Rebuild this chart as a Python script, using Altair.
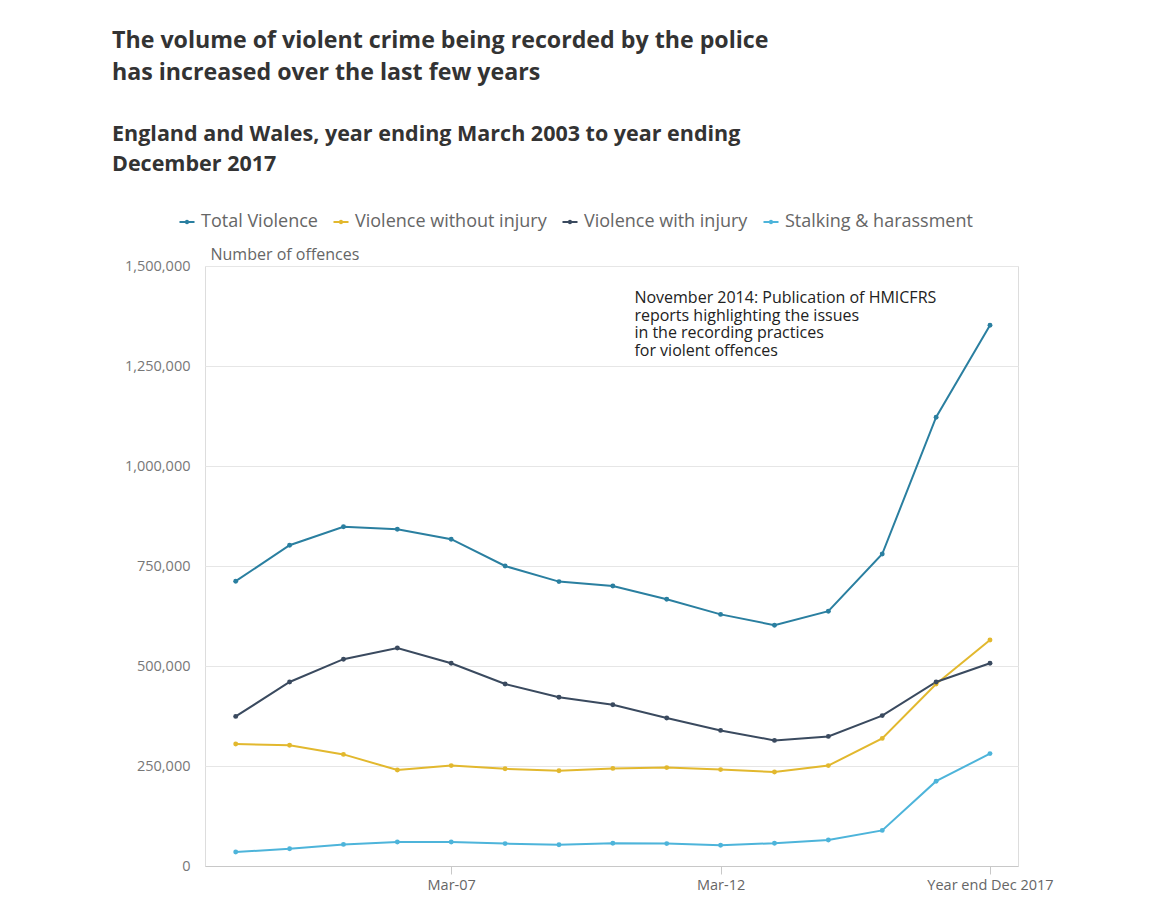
import altair as alt
import pandas as pd

periods = ["Mar-03", "Mar-04", "Mar-05", "Mar-06", "Mar-07", "Mar-08", "Mar-09",
           "Mar-10", "Mar-11", "Mar-12", "Mar-13", "Mar-14", "Mar-15", "Mar-16",
           "Year end Dec 2017"]
series_names = ["Total Violence", "Violence without injury", "Violence with injury",
                "Stalking & harassment"]
total_violence = [712000, 802000, 848000, 842000, 817000, 750000, 711000, 700000,
                  667000, 629000, 602000, 637000, 780000, 1122000, 1352000]
without_injury = [305000, 302000, 279000, 240000, 251000, 243000, 238000, 244000,
                  246000, 241000, 235000, 251000, 319000, 455000, 565000]
with_injury = [374000, 460000, 517000, 545000, 507000, 455000, 422000, 403000,
               370000, 339000, 314000, 324000, 376000, 460000, 507000]
stalking = [35000, 43000, 54000, 60000, 60000, 56000, 53000, 57000, 56000, 52000,
            57000, 65000, 89000, 212000, 281000]
colors = ["#2a7fa0", "#e2b82e", "#3a4a5f", "#4db4da"]
x_tick_periods = ["Mar-07", "Mar-12", "Year end Dec 2017"]
y_ticks = [0, 250000, 500000, 750000, 1000000, 1250000, 1500000]

annotation_text = ("November 2014: Publication of HMICFRS\nreports highlighting the issues\n"
                   "in the recording practices\nfor violent offences")
annotation_x = 7.4
annotation_y = 1439000

rows = []
for name, vals in zip(series_names, [total_violence, without_injury, with_injury, stalking]):
    for i, (p, v) in enumerate(zip(periods, vals)):
        rows.append({"series": name, "period": p, "idx": i, "value": v})
df = pd.DataFrame(rows)

label_array = "[" + ",".join("'" + p + "'" for p in periods) + "]"
x_enc = alt.X("idx:Q",
              scale=alt.Scale(domain=[-0.57, len(periods) - 1 + 0.52], nice=False, zero=False),
              axis=alt.Axis(values=[periods.index(p) for p in x_tick_periods],
                            labelExpr=label_array + "[datum.value]",
                            title=None, grid=False, domainColor="#c8c8c8",
                            tickColor="#c8c8c8", tickSize=8, labelPadding=4,
                            labelFont="Open Sans", labelFontSize=14.5, labelColor="#666666"))
y_enc = alt.Y("value:Q",
              scale=alt.Scale(domain=[0, 1500000], nice=False),
              axis=alt.Axis(values=y_ticks, format=",d", domain=False, ticks=False,
                            labelPadding=15, labelFont="Open Sans", labelFontSize=14.5,
                            labelColor="#777777", gridColor="#e6e6e6",
                            title="Number of offences", titleAngle=0, titleAlign="left",
                            titleBaseline="bottom", titleX=5, titleY=-4,
                            titleFont="Open Sans", titleFontSize=16,
                            titleFontWeight="normal", titleColor="#666666"))
color_scale = alt.Scale(domain=series_names, range=colors)

lines = alt.Chart(df).mark_line(strokeWidth=2).encode(
    x=x_enc, y=y_enc,
    color=alt.Color("series:N", scale=color_scale, legend=None),
    detail="series:N",
)

legend_symbol = ("M-1,-0.13L1,-0.13L1,0.13L-1,0.13Z "
                 "M-0.3,0A0.3,0.3,0,1,1,0.3,0A0.3,0.3,0,1,1,-0.3,0Z")
points = alt.Chart(df).mark_circle(size=24, opacity=1).encode(
    x=x_enc, y=y_enc,
    color=alt.Color("series:N", scale=color_scale,
                    sort=series_names,
                    legend=alt.Legend(title=None, orient="none", direction="horizontal",
                                      legendX=-27, legendY=-53,
                                      symbolType=legend_symbol, symbolSize=225,
                                      symbolOpacity=1, labelFont="Open Sans",
                                      labelFontSize=18, labelColor="#666666",
                                      labelLimit=400, columnPadding=14, labelOffset=5)),
)

annot_df = pd.DataFrame({"x": [annotation_x], "y": [annotation_y], "text": [annotation_text]})
annotation = alt.Chart(annot_df).mark_text(
    align="left", baseline="top", lineBreak="\n", font="Open Sans", fontSize=16,
    lineHeight=17.5, color="#222222"
).encode(x="x:Q", y="y:Q", text="text:N")

chart = alt.layer(lines, points, annotation).resolve_legend(color="independent").properties(
    width=813, height=600,
    title=alt.TitleParams(
        text=["The volume of violent crime being recorded by the police",
              "has increased over the last few years"],
        subtitle=["England and Wales, year ending March 2003 to year ending",
                  "December 2017"],
        anchor="start", frame="group", dx=-93, offset=37,
        font="Open Sans", fontSize=23.2, fontWeight="bold", color="#333333", lineHeight=32,
        subtitleFont="Open Sans", subtitleFontSize=21.5, subtitleFontWeight="bold",
        subtitleColor="#333333", subtitleLineHeight=30, subtitlePadding=38,
    ),
    padding={"left": 104, "top": 21, "right": 5, "bottom": 5},
).configure_view(stroke=None).configure(background="white")

chart.save("out.html", embed_options={"renderer": "svg", "actions": False})
